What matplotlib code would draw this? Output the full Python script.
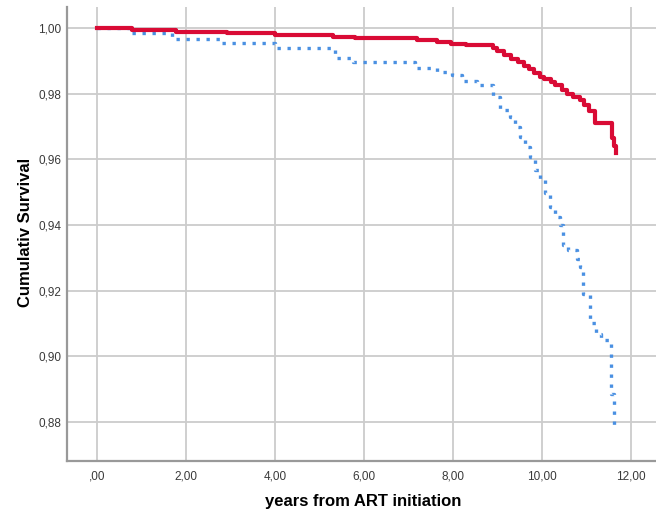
import numpy as np
import matplotlib
matplotlib.use("Agg")
import matplotlib.pyplot as plt
from matplotlib.ticker import FuncFormatter

# Kaplan-Meier steps (time in years, survival after the step)
red_t = [0, 0.80, 1.78, 2.92, 4.00, 5.30, 5.80, 7.20, 7.65, 7.95, 8.30, 8.90,
         9.00, 9.15, 9.30, 9.45, 9.60, 9.70, 9.82, 9.95, 10.05, 10.20, 10.30,
         10.45, 10.55, 10.70, 10.85, 10.95, 11.05, 11.20, 11.57, 11.62, 11.66]
red_s = [1.000, 0.9993, 0.9989, 0.9984, 0.9980, 0.9974, 0.9968, 0.9962, 0.9957,
         0.9951, 0.9947, 0.9940, 0.9930, 0.9918, 0.9905, 0.9895, 0.9885, 0.9875,
         0.9862, 0.9852, 0.9845, 0.9835, 0.9825, 0.9810, 0.9798, 0.9790, 0.9780,
         0.9765, 0.9748, 0.9710, 0.9665, 0.9640, 0.9620]

blue_t = [0, 0.76, 1.68, 2.81, 4.00, 5.35, 5.75, 7.15, 7.65, 7.98, 8.20, 8.55,
          8.90, 9.06, 9.28, 9.39, 9.51, 9.62, 9.73, 9.84, 9.96, 10.07, 10.18,
          10.30, 10.40, 10.47, 10.58, 10.78, 10.85, 10.92, 11.08, 11.22, 11.32,
          11.55, 11.62]
blue_s = [1.000, 0.9984, 0.9966, 0.9953, 0.9938, 0.9910, 0.9896, 0.9879, 0.9865,
          0.9857, 0.9840, 0.9826, 0.9790, 0.9751, 0.9729, 0.9699, 0.9669, 0.9638,
          0.9608, 0.9568, 0.9538, 0.9498, 0.9456, 0.9425, 0.9400, 0.9340, 0.9325,
          0.9295, 0.9273, 0.9190, 0.9100, 0.9067, 0.9050, 0.8885, 0.8775]

x_ticks = [0, 2, 4, 6, 8, 10, 12]
y_ticks = [0.88, 0.90, 0.92, 0.94, 0.96, 0.98, 1.00]


def comma_fmt(v, pos):
    s = ("%.2f" % v).replace(".", ",")
    # SPSS drops the leading zero on ,00
    return s.lstrip("0") if v == 0 else s


plt.rcParams['font.family'] = ['Liberation Sans', 'DejaVu Sans']

fig = plt.figure(figsize=(6.56, 5.13), dpi=100)
ax = fig.add_axes([0.102, 0.1014, 0.898, 0.885])

ax.plot(blue_t, blue_s, drawstyle='steps-post', color='#4a90e2', lw=2.4,
        linestyle=(0, (1, 2.0)), dash_capstyle='butt', zorder=3)
ax.plot(red_t, red_s, drawstyle='steps-post', color='#d90b35', lw=3.0,
        zorder=4)

ax.set_xlim(-0.67, 12.56)
ax.set_ylim(0.8681, 1.0064)
ax.set_xticks(x_ticks)
ax.set_yticks(y_ticks)
ax.xaxis.set_major_formatter(FuncFormatter(comma_fmt))
ax.yaxis.set_major_formatter(FuncFormatter(lambda v, p: ("%.2f" % v).replace(".", ",")))

ax.grid(True, color='#cccccc', lw=1.3)
ax.set_axisbelow(True)
ax.tick_params(length=0, labelsize=8.5, colors='#3a3a3a')
ax.tick_params(axis='y', pad=4)
ax.tick_params(axis='x', pad=7)

for side in ['top', 'right']:
    ax.spines[side].set_visible(False)
for side in ['left', 'bottom']:
    ax.spines[side].set_color('#999999')
    ax.spines[side].set_linewidth(1.6)

ax.set_xlabel('years from ART initiation', fontsize=12, fontweight='bold',
              va='center')
ax.set_ylabel('Cumulativ Survival', fontsize=12, fontweight='bold',
              va='center')
ax.xaxis.set_label_coords(0.5025, -0.090)
ax.yaxis.set_label_coords(-0.0696, 0.504)

fig.savefig('out.png', dpi=100)
